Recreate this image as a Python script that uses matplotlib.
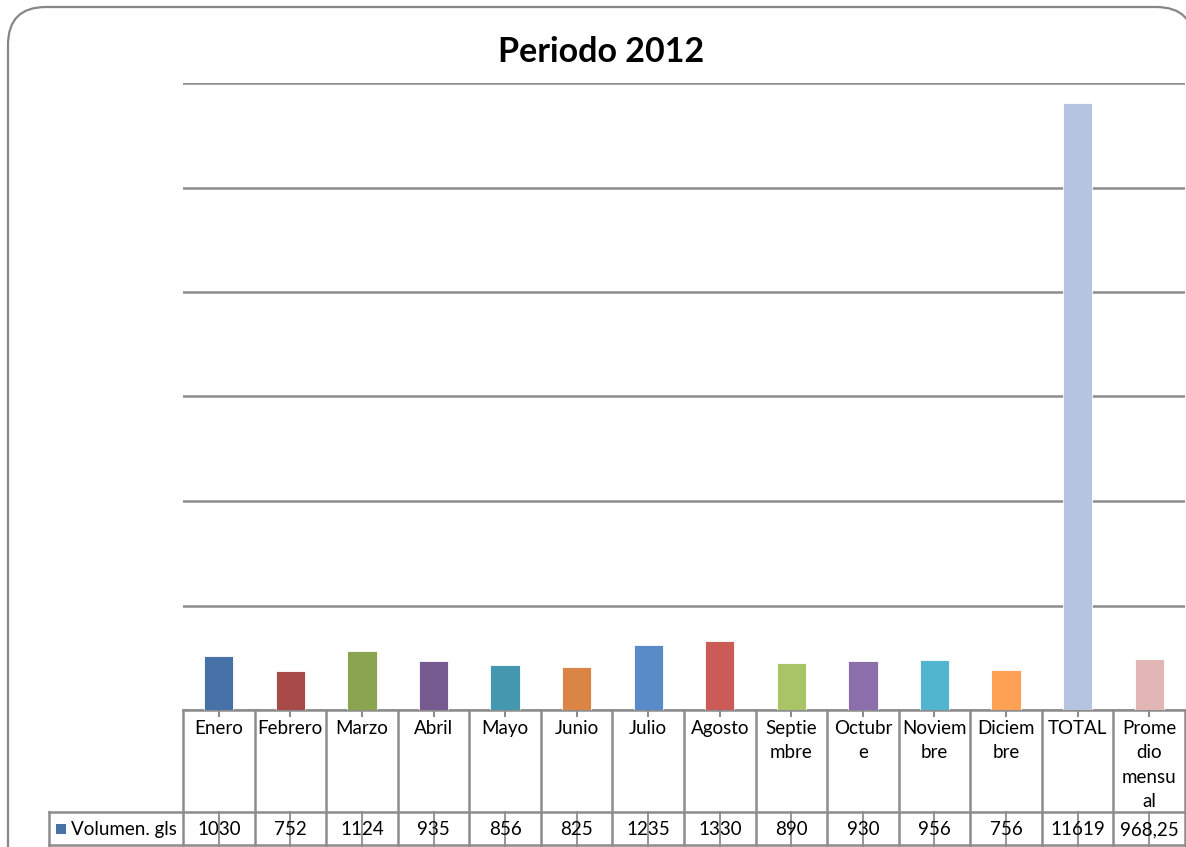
import matplotlib
matplotlib.use("Agg")
import matplotlib.pyplot as plt
from matplotlib.patches import FancyBboxPatch, Rectangle
import matplotlib.transforms as mtransforms

plt.rcParams['font.family'] = ['Lato', 'DejaVu Sans']

categories = ["Enero", "Febrero", "Marzo", "Abril", "Mayo", "Junio", "Julio",
              "Agosto", "Septiembre", "Octubre", "Noviembre", "Diciembre",
              "TOTAL", "Promedio mensual"]
header_labels = ["Enero", "Febrero", "Marzo", "Abril", "Mayo", "Junio", "Julio",
                 "Agosto", "Septie\nmbre", "Octubr\ne", "Noviem\nbre", "Diciem\nbre",
                 "TOTAL", "Prome\ndio\nmensu\nal"]
values = [1030, 752, 1124, 935, 856, 825, 1235, 1330, 890, 930, 956, 756, 11619, 968.25]
value_labels = ["1030", "752", "1124", "935", "856", "825", "1235", "1330",
                "890", "930", "956", "756", "11619", "968,25"]
series_name = "Volumen. gls"
title = "Periodo 2012"
colors = ["#4772A8", "#A84B48", "#8BA450", "#755A90", "#4397AE", "#DA8545",
          "#5A8BC9", "#CC5B58", "#A8C466", "#8B6EAA", "#52B5CF", "#FFA154",
          "#B4C4E1", "#E2B6B5"]

W, H = 1186, 847
fig = plt.figure(figsize=(W / 100, H / 100), dpi=100)

def fx(px):
    return px / W

def fy(py):
    return 1 - py / H

# rounded outer frame
frame = FancyBboxPatch((fx(8), fy(900)), fx(1194 - 8), (900 - 7) / H,
                       boxstyle="round,pad=0,rounding_size=0.032",
                       transform=fig.transFigure, facecolor="white",
                       edgecolor="#878787", linewidth=1.6, zorder=-5,
                       mutation_aspect=W / H)
fig.patches.append(frame)

ax_left, ax_right, ax_top, ax_bottom = 183, 1185, 83, 710
ax = fig.add_axes([fx(ax_left), fy(ax_bottom), fx(ax_right - ax_left),
                   (ax_bottom - ax_top) / H])
ax.set_zorder(2)
ax.set_facecolor("none")
n = len(categories)
x = list(range(n))
ax.bar(x, values, width=0.41, color=colors, edgecolor="white", linewidth=0.6,
       zorder=3)
ax.set_xlim(-0.5, n - 0.5)
ax.set_ylim(0, 12000)
ax.set_yticks(range(0, 12001, 2000))
ax.yaxis.grid(True, color="#8C8C8C", linewidth=1.8)
ax.set_axisbelow(True)
ax.tick_params(axis="y", left=False, labelleft=False)
ax.set_xticks(x)
ax.tick_params(axis="x", direction="inout", length=10, width=1.5,
               color="#8C8C8C", labelbottom=False)
for s in ["top", "right", "left"]:
    ax.spines[s].set_visible(False)
ax.spines["bottom"].set_color("#8C8C8C")
ax.spines["bottom"].set_linewidth(1.8)

# data table below axis
trans = mtransforms.blended_transform_factory(ax.transData, fig.transFigure)
lc = "#8C8C8C"
row_top, row_mid, row_bot = 710, 812, 845
for i in range(n + 1):
    xb = i - 0.5
    fig.add_artist(plt.Line2D([xb, xb], [fy(row_top), fy(row_bot)],
                              transform=trans, color=lc, linewidth=1.8))
fig.add_artist(plt.Line2D([fx(49), fx(ax_right)], [fy(row_mid), fy(row_mid)],
                          transform=fig.transFigure, color=lc, linewidth=1.8))
fig.add_artist(plt.Line2D([fx(49), fx(ax_right)], [fy(row_bot), fy(row_bot)],
                          transform=fig.transFigure, color=lc, linewidth=1.8))
fig.add_artist(plt.Line2D([fx(49), fx(49)], [fy(row_mid), fy(row_bot)],
                          transform=fig.transFigure, color=lc, linewidth=1.8))
for i in range(n):
    fig.add_artist(plt.Line2D([i, i], [fy(row_mid), fy(847)],
                              transform=trans, color=lc, linewidth=1.3))

for i in range(n):
    fig.text(i, fy(720), header_labels[i], transform=trans, ha="center",
             va="top", fontsize=13.5, linespacing=1.52, color="black")
    fig.text(i, fy(829.5), value_labels[i], transform=trans, ha="center",
             va="center", fontsize=13.5, color="black")

fig.add_artist(Rectangle((fx(56), fy(834)), fx(10), 10 / H,
                         transform=fig.transFigure, facecolor=colors[0],
                         edgecolor="none"))
fig.text(fx(71), fy(829.5), series_name, ha="left", va="center", fontsize=13.5,
         color="black")

fig.text(fx(601), fy(52), title, ha="center", va="center", fontsize=24.5,
         fontweight="bold", color="black")

fig.savefig("out.png", dpi=100)
